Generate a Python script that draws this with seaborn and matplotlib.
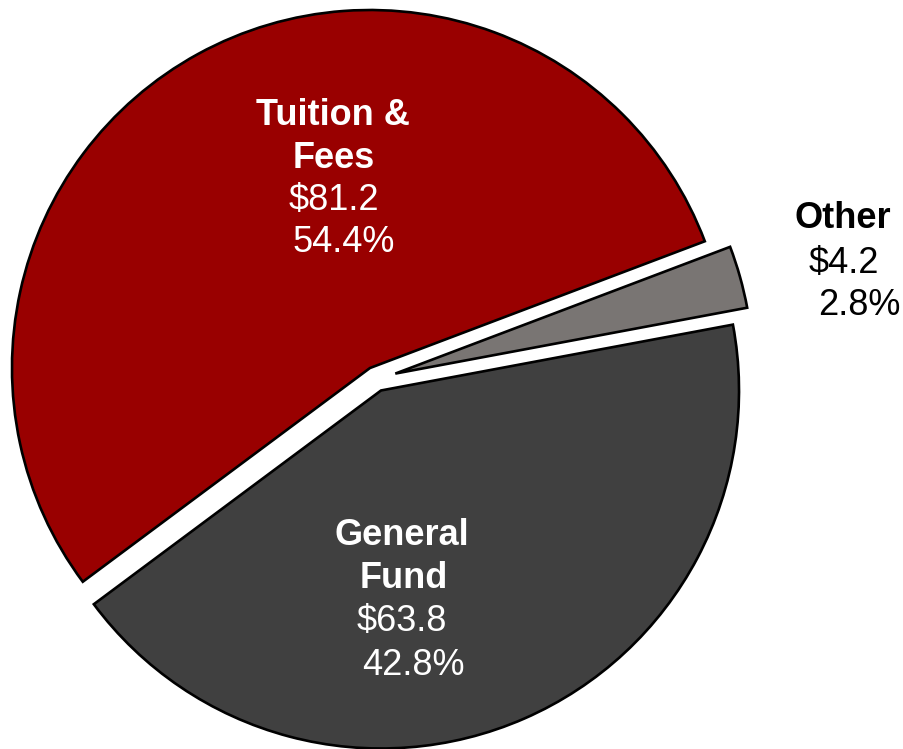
import matplotlib.pyplot as plt
import seaborn as sns

# data (millions of dollars)
categories = ["Tuition & Fees", "General Fund", "Other"]
name_lines = [["Tuition &", "Fees"], ["General", "Fund"], ["Other"]]
amounts = [81.2, 63.8, 4.2]
colors = ["#990000", "#404040", "#797573"]
explode = [0.035, 0.035, 0.056]

sns.set_style("white")
plt.rcParams["font.family"] = ["Liberation Sans", "DejaVu Sans"]

W, H = 904, 749
R = 358.0          # pie radius in pixels
CX, CY = 376, 379  # pie centre in pixels (from top-left)


def px(x, y):
    return (x - CX) / R, (CY - y) / R


fig = plt.figure(figsize=(W / 100, H / 100), dpi=100)
ax = fig.add_axes([0, 0, 1, 1])

total = sum(amounts)
start = 360 * amounts[2] / total + 10.6
wedges, _ = ax.pie(
    amounts,
    colors=colors,
    explode=explode,
    startangle=start,
    counterclock=True,
    wedgeprops={"edgecolor": "black", "linewidth": 1.9},
)

ax.set_xlim(-CX / R, (W - CX) / R)
ax.set_ylim(-(H - CY) / R, CY / R)
ax.set_aspect("auto")
ax.axis("off")

# label layout: x centre of each line and baselines (pixels)
layout = [
    {"name_x": [333, 334], "name_y": [125, 168], "val": (334, 210), "pct": (344, 252), "color": "white"},
    {"name_x": [402, 404], "name_y": [545, 588], "val": (402, 631), "pct": (413, 675), "color": "white"},
    {"name_x": [843], "name_y": [228], "val": (844, 273), "pct": (859, 315), "color": "black"},
]

fs = 26
for lines, amt, lay in zip(name_lines, amounts, layout):
    for line, lx, ly in zip(lines, lay["name_x"], lay["name_y"]):
        ax.text(*px(lx, ly), line, ha="center", va="baseline", fontsize=fs,
                fontweight="bold", color=lay["color"])
    ax.text(*px(*lay["val"]), f"${amt:.1f}", ha="center", va="baseline",
            fontsize=fs, color=lay["color"])
    ax.text(*px(*lay["pct"]), f"{amt / total * 100:.1f}%", ha="center", va="baseline",
            fontsize=fs, color=lay["color"])

plt.savefig("out.png", dpi=100)
plt.close()
